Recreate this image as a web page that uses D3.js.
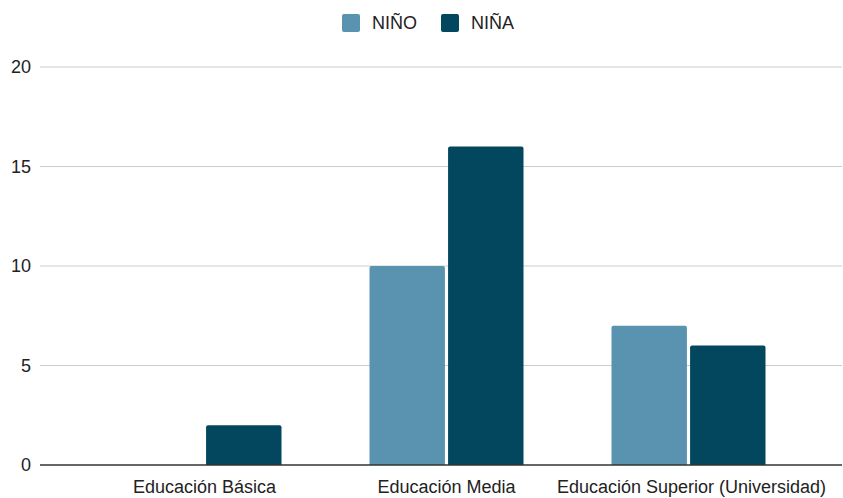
<!DOCTYPE html>
<html><head><meta charset="utf-8">
<script src="https://cdn.jsdelivr.net/npm/d3@7"></script>
<style>body{margin:0;background:#fff}svg{display:block;font-family:"Liberation Sans",Arial,sans-serif}</style>
</head><body><svg id="c" width="843" height="498"></svg>
<script>
const categories = ["Educación Básica", "Educación Media", "Educación Superior (Universidad)"];
const seriesNames = ["NIÑO", "NIÑA"];
const ninoValues = [0, 10, 7];
const ninaValues = [2, 16, 6];
const yTicks = [0, 5, 10, 15, 20];
const colors = ["#5a93b0", "#03475f"];

(function () {
const svg = d3.select("#c");
const mLeft = 40, mRight = 842, mTop = 67, mBottom = 465;
const y = d3.scaleLinear().domain([0, 20]).range([mBottom, mTop]);
const x0 = d3.scaleBand().domain(categories).range([83.5, 809.5]).paddingInner(0.3636).paddingOuter(0.1818);
const x1 = d3.scaleBand().domain(seriesNames).range([0, x0.bandwidth()]).paddingInner(0.04);

svg.append("g").selectAll("line").data(yTicks.filter(d => d !== 0)).join("line")
  .attr("x1", mLeft).attr("x2", mRight).attr("y1", d => y(d)).attr("y2", d => y(d))
  .attr("stroke", "#cccccc").attr("stroke-width", 1);
svg.append("g").selectAll("text").data(yTicks).join("text")
  .attr("x", 31).attr("y", d => y(d)).attr("dy", "0.35em").attr("text-anchor", "end")
  .attr("font-size", 18).attr("fill", "#222").text(d => d);

const data = categories.map((c, i) => ({cat: c, vals: [ninoValues[i], ninaValues[i]]}));
const r = 2;
function barPath(x, w, y0, y1) {
  const h = y0 - y1;
  if (h <= 0) return "";
  const rr = Math.min(r, h);
  return `M${x},${y0}V${y1 + rr}Q${x},${y1} ${x + rr},${y1}H${x + w - rr}Q${x + w},${y1} ${x + w},${y1 + rr}V${y0}Z`;
}
const g = svg.append("g");
data.forEach(d => {
  seriesNames.forEach((s, j) => {
    const v = d.vals[j];
    if (v <= 0) return;
    g.append("path")
      .attr("d", barPath(x0(d.cat) + x1(s), x1.bandwidth(), y(0), y(v)))
      .attr("fill", colors[j]);
  });
});

svg.append("line").attr("x1", mLeft).attr("x2", mRight).attr("y1", y(0)).attr("y2", y(0))
  .attr("stroke", "#333").attr("stroke-width", 1.3);

svg.append("g").selectAll("text").data(categories).join("text")
  .attr("x", (d, i) => x0(d) + x0.bandwidth() / 2 + (i === 2 ? 3 : 0)).attr("y", 493).attr("text-anchor", "middle")
  .attr("font-size", 18).attr("fill", "#222").text(d => d);

const legend = svg.append("g");
const legendX = [342, 441];
seriesNames.forEach((s, j) => {
  legend.append("rect").attr("x", legendX[j]).attr("y", 14).attr("width", 18).attr("height", 18)
    .attr("rx", 2).attr("fill", colors[j]);
  legend.append("text").attr("x", legendX[j] + 30).attr("y", 23).attr("dy", "0.35em")
    .attr("font-size", 18).attr("fill", "#222").text(s);
});
})();
</script></body></html>
